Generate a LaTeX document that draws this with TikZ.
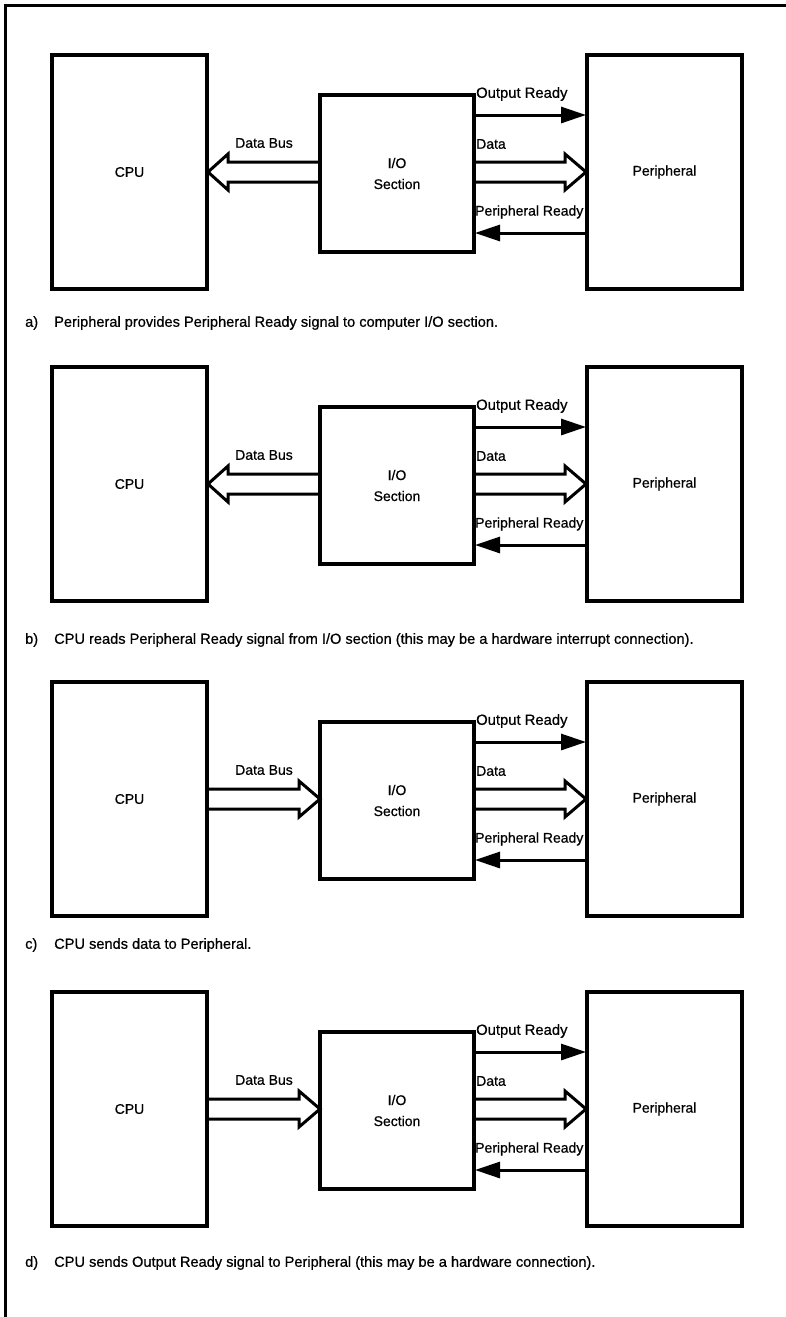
\documentclass[tikz,border=0pt]{standalone}
\usepackage{fontspec}
\setmainfont{Liberation Sans}[FakeBold=0.6]
\usetikzlibrary{arrows.meta,calc}
\tikzset{
  box/.style={draw, line width=4pt, inner sep=0pt, outer sep=0pt, font=\fontsize{14}{21}\selectfont, align=center},
  sig/.style={line width=3pt, -{Triangle[length=25pt,width=16pt]}, shorten >=1pt},
  bus/.style={line width=3pt, line join=miter},
  lbl/.style={font=\fontsize{14}{17}\selectfont, inner sep=0pt},
  captxt/.style={font=\fontsize{14.6}{17}\selectfont, inner sep=0pt, anchor=west},
  frameline/.style={line width=3pt}
}
\newcommand{\drawpanel}[6]{%
  % #1 tag, #2 top y, #3 bus dir (l/r), #4 caption letter, #5 caption text, #6 caption y
  \node[box, minimum width=155pt, minimum height=234pt] (cpu#1) at (129.5,#2+117) {CPU};
  \node[box, minimum width=154pt, minimum height=157pt] (io#1) at (397,#2+118.5) {I/O\\Section};
  \node[box, minimum width=155pt, minimum height=234pt] (per#1) at (664.5,#2+117) {Peripheral};
  % Output Ready
  \coordinate (ors#1) at ([yshift=-20pt]io#1.north east);
  \draw[sig] (ors#1) -- (ors#1 -| per#1.west);
  \node[lbl, anchor=west] (orl#1) at (476,#2+39) {\fontsize{14.8}{17}\selectfont Output Ready};
  % Peripheral Ready
  \coordinate (prs#1) at ([yshift=19pt]io#1.south east);
  \draw[sig] (prs#1 -| per#1.west) -- (prs#1);
  \node[lbl, anchor=west] (prl#1) at (475,#2+157) {Peripheral Ready};
  % Data
  \draw[bus] (io#1.east |- cpu#1.east) ++(0,-10) -- ++(91,0) -- ++(0,-8) -- ++(21,18)
        -- ++(-21,18) -- ++(0,-8) -- ++(-91,0);
  \node[lbl, anchor=west] (dl#1) at (476,#2+89) {Data};
  % Data Bus
  \if#3l
    \draw[bus] (io#1.west |- cpu#1.east) ++(0,-10) -- ++(-92,0) -- ++(0,-8) -- ++(-20,18)
        -- ++(20,18) -- ++(0,-8) -- ++(92,0);
  \else
    \draw[bus] (cpu#1.east) ++(0,-10) -- ++(92,0) -- ++(0,-8) -- ++(21,18)
        -- ++(-21,18) -- ++(0,-8) -- ++(-92,0);
  \fi
  \node[lbl] (dbl#1) at (264,#2+88) {Data Bus};
  % caption
  \node[captxt] (capl#1) at (25,#6) {#4};
  \node[captxt] (capt#1) at (54,#6) {#5};
}
\begin{document}
\begin{tikzpicture}[x=1pt,y=-1pt]
  \fill[white] (0,0) rectangle (786,1317);
  \useasboundingbox (0,0) rectangle (786,1317);
  \draw[frameline] (786,5) coordinate (fr1) -- (5,5) coordinate (fr2) -- (5,1317) coordinate (fr3);
  \drawpanel{a}{55}{l}{a)}{Peripheral provides Peripheral Ready signal to computer I/O section.}{323}
  \drawpanel{b}{367}{l}{b)}{CPU reads Peripheral Ready signal from I/O section (this may be a hardware interrupt connection).}{640}
  \drawpanel{c}{682}{r}{c)}{CPU sends data to Peripheral.}{945}
  \drawpanel{d}{992}{r}{d)}{CPU sends Output Ready signal to Peripheral (this may be a hardware connection).}{1263}
\end{tikzpicture}
\end{document}
